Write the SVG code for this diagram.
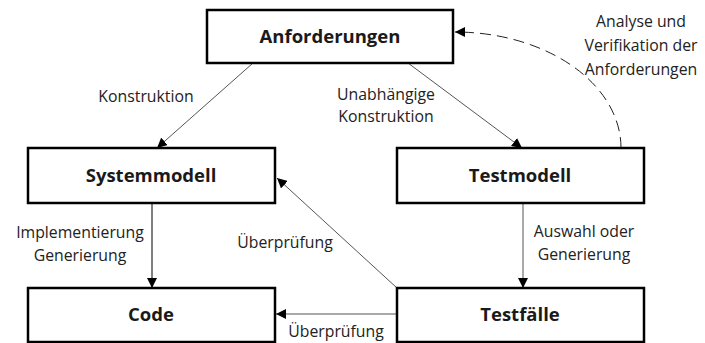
<svg xmlns="http://www.w3.org/2000/svg" width="705" height="343" viewBox="0 0 705 343">
  <style>
    .box { fill: #ffffff; stroke: #000000; stroke-width: 2.5; }
    .title { font-family: "Open Sans", "Liberation Sans", sans-serif; font-weight: bold; font-size: 18.5px; fill: #1a1a1a; text-anchor: middle; }
    .lbl { font-family: "Open Sans", "Liberation Sans", sans-serif; font-size: 15.8px; fill: #222222; text-anchor: middle; }
    .edge { fill: none; stroke: #000000; stroke-width: 1; }
    .thin { stroke: #555555; }
    .dash { stroke-dasharray: 11 6; stroke: #222222; }
  </style>
  <defs>
    <marker id="arrow" viewBox="0 0 10 10" refX="10" refY="5" markerWidth="10" markerHeight="10" markerUnits="userSpaceOnUse" orient="auto">
      <path d="M0,0 L10,5 L0,10 z" fill="#000000"/>
    </marker>
  </defs>
  <rect width="705" height="343" fill="#ffffff"/>

  <g id="edges">
    <!-- Konstruktion -->
    <line class="edge thin" x1="253" y1="63" x2="157" y2="148" marker-end="url(#arrow)"/>
    <!-- Unabhängige Konstruktion -->
    <line class="edge thin" x1="408" y1="63" x2="522" y2="148" marker-end="url(#arrow)"/>
    <!-- Analyse und Verifikation -->
    <path class="edge dash" d="M621,148 A166,116 0 0 0 455,32" marker-end="url(#arrow)"/>
    <!-- Implementierung / Generierung -->
    <line class="edge" x1="152" y1="203" x2="152" y2="288" marker-end="url(#arrow)"/>
    <!-- Auswahl oder Generierung -->
    <line class="edge thin" x1="523" y1="203" x2="523" y2="288" marker-end="url(#arrow)"/>
    <!-- Überprüfung Systemmodell -->
    <line class="edge thin" x1="397" y1="288" x2="277" y2="178" marker-end="url(#arrow)"/>
    <!-- Überprüfung Code -->
    <line class="edge thin" x1="397" y1="314" x2="276" y2="314" marker-end="url(#arrow)"/>

    <text class="lbl" x="146" y="102">Konstruktion</text>
    <text class="lbl" x="386" y="100">Unabhängige</text>
    <text class="lbl" x="386" y="122">Konstruktion</text>
    <text class="lbl" x="641" y="27">Analyse und</text>
    <text class="lbl" x="641" y="51">Verifikation der</text>
    <text class="lbl" x="641" y="75">Anforderungen</text>
    <text class="lbl" x="80" y="238">Implementierung</text>
    <text class="lbl" x="80" y="261">Generierung</text>
    <text class="lbl" x="285" y="248">Überprüfung</text>
    <text class="lbl" x="584" y="237">Auswahl oder</text>
    <text class="lbl" x="584" y="260">Generierung</text>
    <text class="lbl" x="336" y="337">Überprüfung</text>
  </g>

  <g id="anforderungen">
    <rect class="box" x="207" y="10" width="246" height="53"/>
    <text class="title" x="330" y="43">Anforderungen</text>
  </g>
  <g id="systemmodell">
    <rect class="box" x="28" y="148" width="247" height="55"/>
    <text class="title" x="151" y="182">Systemmodell</text>
  </g>
  <g id="testmodell">
    <rect class="box" x="397" y="148" width="247" height="55"/>
    <text class="title" x="520" y="182">Testmodell</text>
  </g>
  <g id="code">
    <rect class="box" x="28" y="288" width="247" height="54"/>
    <text class="title" x="151" y="321">Code</text>
  </g>
  <g id="testfaelle">
    <rect class="box" x="397" y="288" width="247" height="54"/>
    <text class="title" x="520" y="321">Testfälle</text>
  </g>
</svg>
